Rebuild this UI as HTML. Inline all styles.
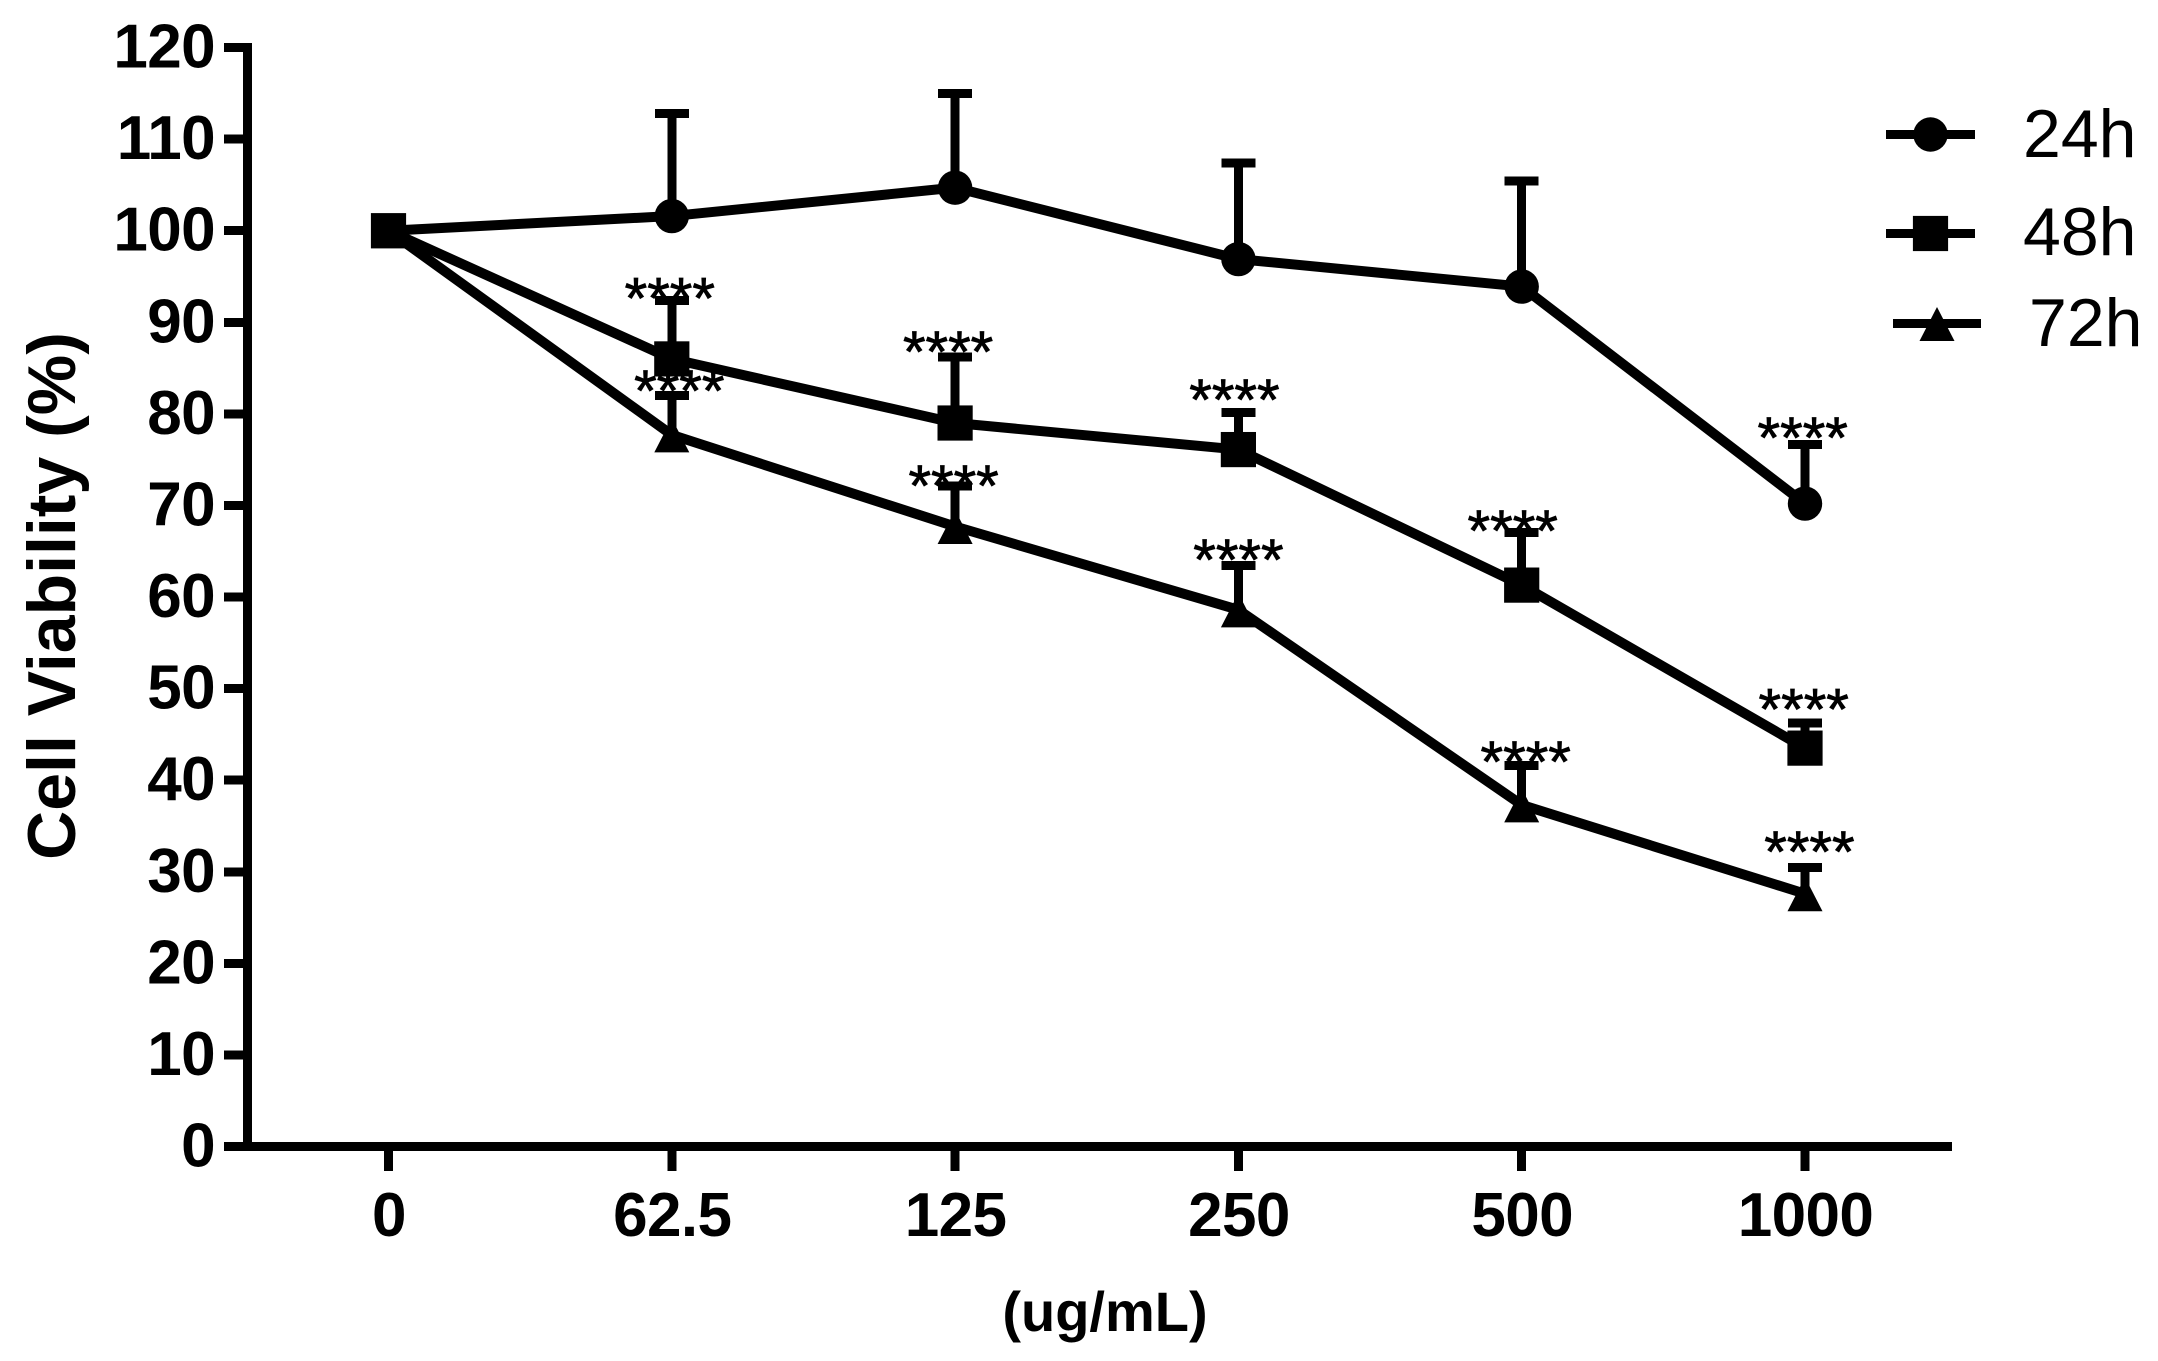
<!DOCTYPE html>
<html lang="en">
<head>
<meta charset="utf-8">
<title>Cell Viability chart</title>
<style>
html,body{margin:0;padding:0;background:#fff;}
svg{display:block;}
text{fill:#000;font-family:"Liberation Sans",Arial,sans-serif;}
.tick{font-size:62px;font-weight:bold;letter-spacing:-0.6px;}
.title{font-weight:bold;}
.legend{font-size:68px;}
.star{font-size:58px;text-anchor:middle;stroke:#000;stroke-width:0.8px;}
</style>
</head>
<body>
<svg id="chart" width="2158" height="1361" viewBox="0 0 2158 1361" xmlns="http://www.w3.org/2000/svg">
  <rect x="0" y="0" width="2158" height="1361" fill="#fff"/>
  <g id="y-axis"></g>
  <g id="x-axis"></g>
  <text class="title" font-size="68" text-anchor="middle" transform="translate(75,596) rotate(-90)">Cell Viability (%)</text>
  <text class="title" font-size="56" text-anchor="middle" x="1105" y="1331">(ug/mL)</text>
  <g id="series"></g>
  <g id="legend"></g>
</svg>
<script>
// ---- chart data ----
const categories = ['0', '62.5', '125', '250', '500', '1000'];
const yTicks = [0, 10, 20, 30, 40, 50, 60, 70, 80, 90, 100, 110, 120];
const values24 = [100, 101.6, 104.7, 96.9, 93.9, 70.2];
const errors24 = [0, 11.2, 10.3, 10.5, 11.5, 6.45];
const values48 = [100, 86.0, 79.0, 76.1, 61.3, 43.5];
const errors48 = [0, 6.4, 7.2, 4.05, 5.75, 2.75];
const values72 = [100, 77.7, 67.7, 58.6, 37.3, 27.6];
const errors72 = [0, 4.3, 4.4, 4.85, 4.3, 2.85];
const stars24 = ['', '', '', '', '', '****'];
const stars48 = ['', '****', '****', '****', '****', '****'];
const stars72 = ['', '****', '****', '****', '****', '****'];
const legendLabels = ['24h', '48h', '72h'];

// ---- layout (pixels, not data) ----
const NS = 'http://www.w3.org/2000/svg';
const layout = {
  x0: 388.5, xStep: 283.3, y0: 1146.5, yUnit: 9.158,
  axisLeft: 247.5, axisRight: 1952, tickOuter: 224, tickBottom: 1171,
  stroke: 9, seriesStroke: 10, capHalf: 17, circleR: 17.2, squareHalf: 17.6,
  triTop: 16.5, triBottom: 17.5, triHalf: 17.5, starBaseline: 29
};
// annotation nudges relative to each error cap (x offset, y offset of glyph centre)
const nudges24 = [[0,0],[0,0],[0,0],[0,0],[0,0],[-2.3,-15.5]];
const nudges48 = [[0,0],[-2,-11],[-7,-14],[-4,-21.5],[-9,-10.5],[-1.3,-22.5]];
const nudges72 = [[0,0],[7.5,-13.5],[-1.5,-9],[0,-14.5],[4,-12.5],[4.4,-24.5]];

// ---- axis functions ----
function xPos(i) { return layout.x0 + i * layout.xStep; }
function yPos(v) { return layout.y0 - v * layout.yUnit; }

function make(tag, attrs, parent) {
  const node = document.createElementNS(NS, tag);
  for (const k in attrs) node.setAttribute(k, attrs[k]);
  parent.appendChild(node);
  return node;
}
function lineAttrs(x1, y1, x2, y2) {
  return { x1: x1, y1: y1, x2: x2, y2: y2, stroke: '#000', 'stroke-width': layout.stroke };
}

// ---- axes ----
const yAxis = document.getElementById('y-axis');
const xAxis = document.getElementById('x-axis');

const yLine = make('line', lineAttrs(layout.axisLeft, yPos(120) - 4.5, layout.axisLeft, layout.y0 + 4.5), yAxis);


yLine.setAttribute('shape-rendering', 'crispEdges');

yTicks.forEach(function (v) {
  const tick = make('line', lineAttrs(layout.tickOuter, yPos(v), layout.axisLeft, yPos(v)), yAxis);
  
  
  tick.setAttribute('shape-rendering', 'crispEdges');
  const label = make('text', { x: 215, y: yPos(v) + 20, 'text-anchor': 'end', class: 'tick' }, yAxis);
  
  
  label.textContent = String(v);
});

const xLine = make('line', lineAttrs(layout.tickOuter, layout.y0, layout.axisRight, layout.y0), xAxis);


xLine.setAttribute('shape-rendering', 'crispEdges');

categories.forEach(function (c, i) {
  const tick = make('line', lineAttrs(xPos(i), layout.y0, xPos(i), layout.tickBottom), xAxis);
  
  
  tick.setAttribute('shape-rendering', 'crispEdges');
  const label = make('text', { x: xPos(i) + 0.5, y: 1236, 'text-anchor': 'middle', class: 'tick' }, xAxis);
  
  
  label.textContent = c;
});

// ---- markers ----
function drawCircle(parent, cx, cy) {
  const m = make('circle', { cx: cx, cy: cy, r: layout.circleR, fill: '#000' }, parent);
  
  
}
function drawSquare(parent, cx, cy) {
  const h = layout.squareHalf;
  const m = make('rect', { x: cx - h, y: cy - h, width: 2 * h, height: 2 * h, fill: '#000' }, parent);
  
  
}
function drawTriangle(parent, cx, cy) {
  const pts = [cx, cy - layout.triTop, cx + layout.triHalf, cy + layout.triBottom, cx - layout.triHalf, cy + layout.triBottom];
  const m = make('polygon', { points: pts.join(' '), fill: '#000' }, parent);
  
  
}

// ---- series ----
function drawSeries(name, values, errors, stars, nudges, marker) {
  const seriesRoot = document.getElementById('series');
  const group = make('g', {}, seriesRoot);
  
  
  group.setAttribute('aria-label', name);

  values.forEach(function (v, i) {
    if (!errors[i]) return;
    const top = yPos(v + errors[i]);
    const stem = make('line', lineAttrs(xPos(i), yPos(v), xPos(i), top), group);
    
    
    stem.setAttribute('shape-rendering', 'crispEdges');
    const cap = make('line', lineAttrs(xPos(i) - layout.capHalf, top, xPos(i) + layout.capHalf, top), group);
    
    
    cap.setAttribute('shape-rendering', 'crispEdges');
  });

  const pts = values.map(function (v, i) { return xPos(i) + ',' + yPos(v); }).join(' ');
  const path = make('polyline', { points: pts, fill: 'none', stroke: '#000', 'stroke-width': layout.seriesStroke, 'stroke-linejoin': 'round' }, group);
  
  

  values.forEach(function (v, i) { marker(group, xPos(i), yPos(v)); });

  stars.forEach(function (s, i) {
    if (!s) return;
    const top = yPos(values[i] + errors[i]);
    const t = make('text', { x: xPos(i) + nudges[i][0], y: top + nudges[i][1] + layout.starBaseline, class: 'star' }, group);
    
    
    t.textContent = s;
  });
}
drawSeries('24h', values24, errors24, stars24, nudges24, drawCircle);
drawSeries('72h', values72, errors72, stars72, nudges72, drawTriangle);
drawSeries('48h', values48, errors48, stars48, nudges48, drawSquare);

// ---- legend ----
const legendRoot = document.getElementById('legend');
const legendLines = [[1886, 1975, 134.5], [1886, 1975, 233.5], [1893, 1981, 323.5]];
const legendText = [[2023, 157], [2023, 255], [2029, 346]];
const legendMarkers = [drawCircle, drawSquare, drawTriangle];
legendLabels.forEach(function (lab, i) {
  const entry = make('g', {}, legendRoot);
  
  
  const L = legendLines[i];
  const sw = make('line', lineAttrs(L[0], L[2], L[1], L[2]), entry);
  
  
  sw.setAttribute('shape-rendering', 'crispEdges');
  legendMarkers[i](entry, (L[0] + L[1]) / 2, L[2]);
  const t = make('text', { x: legendText[i][0], y: legendText[i][1], class: 'legend' }, entry);
  
  
  t.textContent = lab;
});
</script>
</body>
</html>
